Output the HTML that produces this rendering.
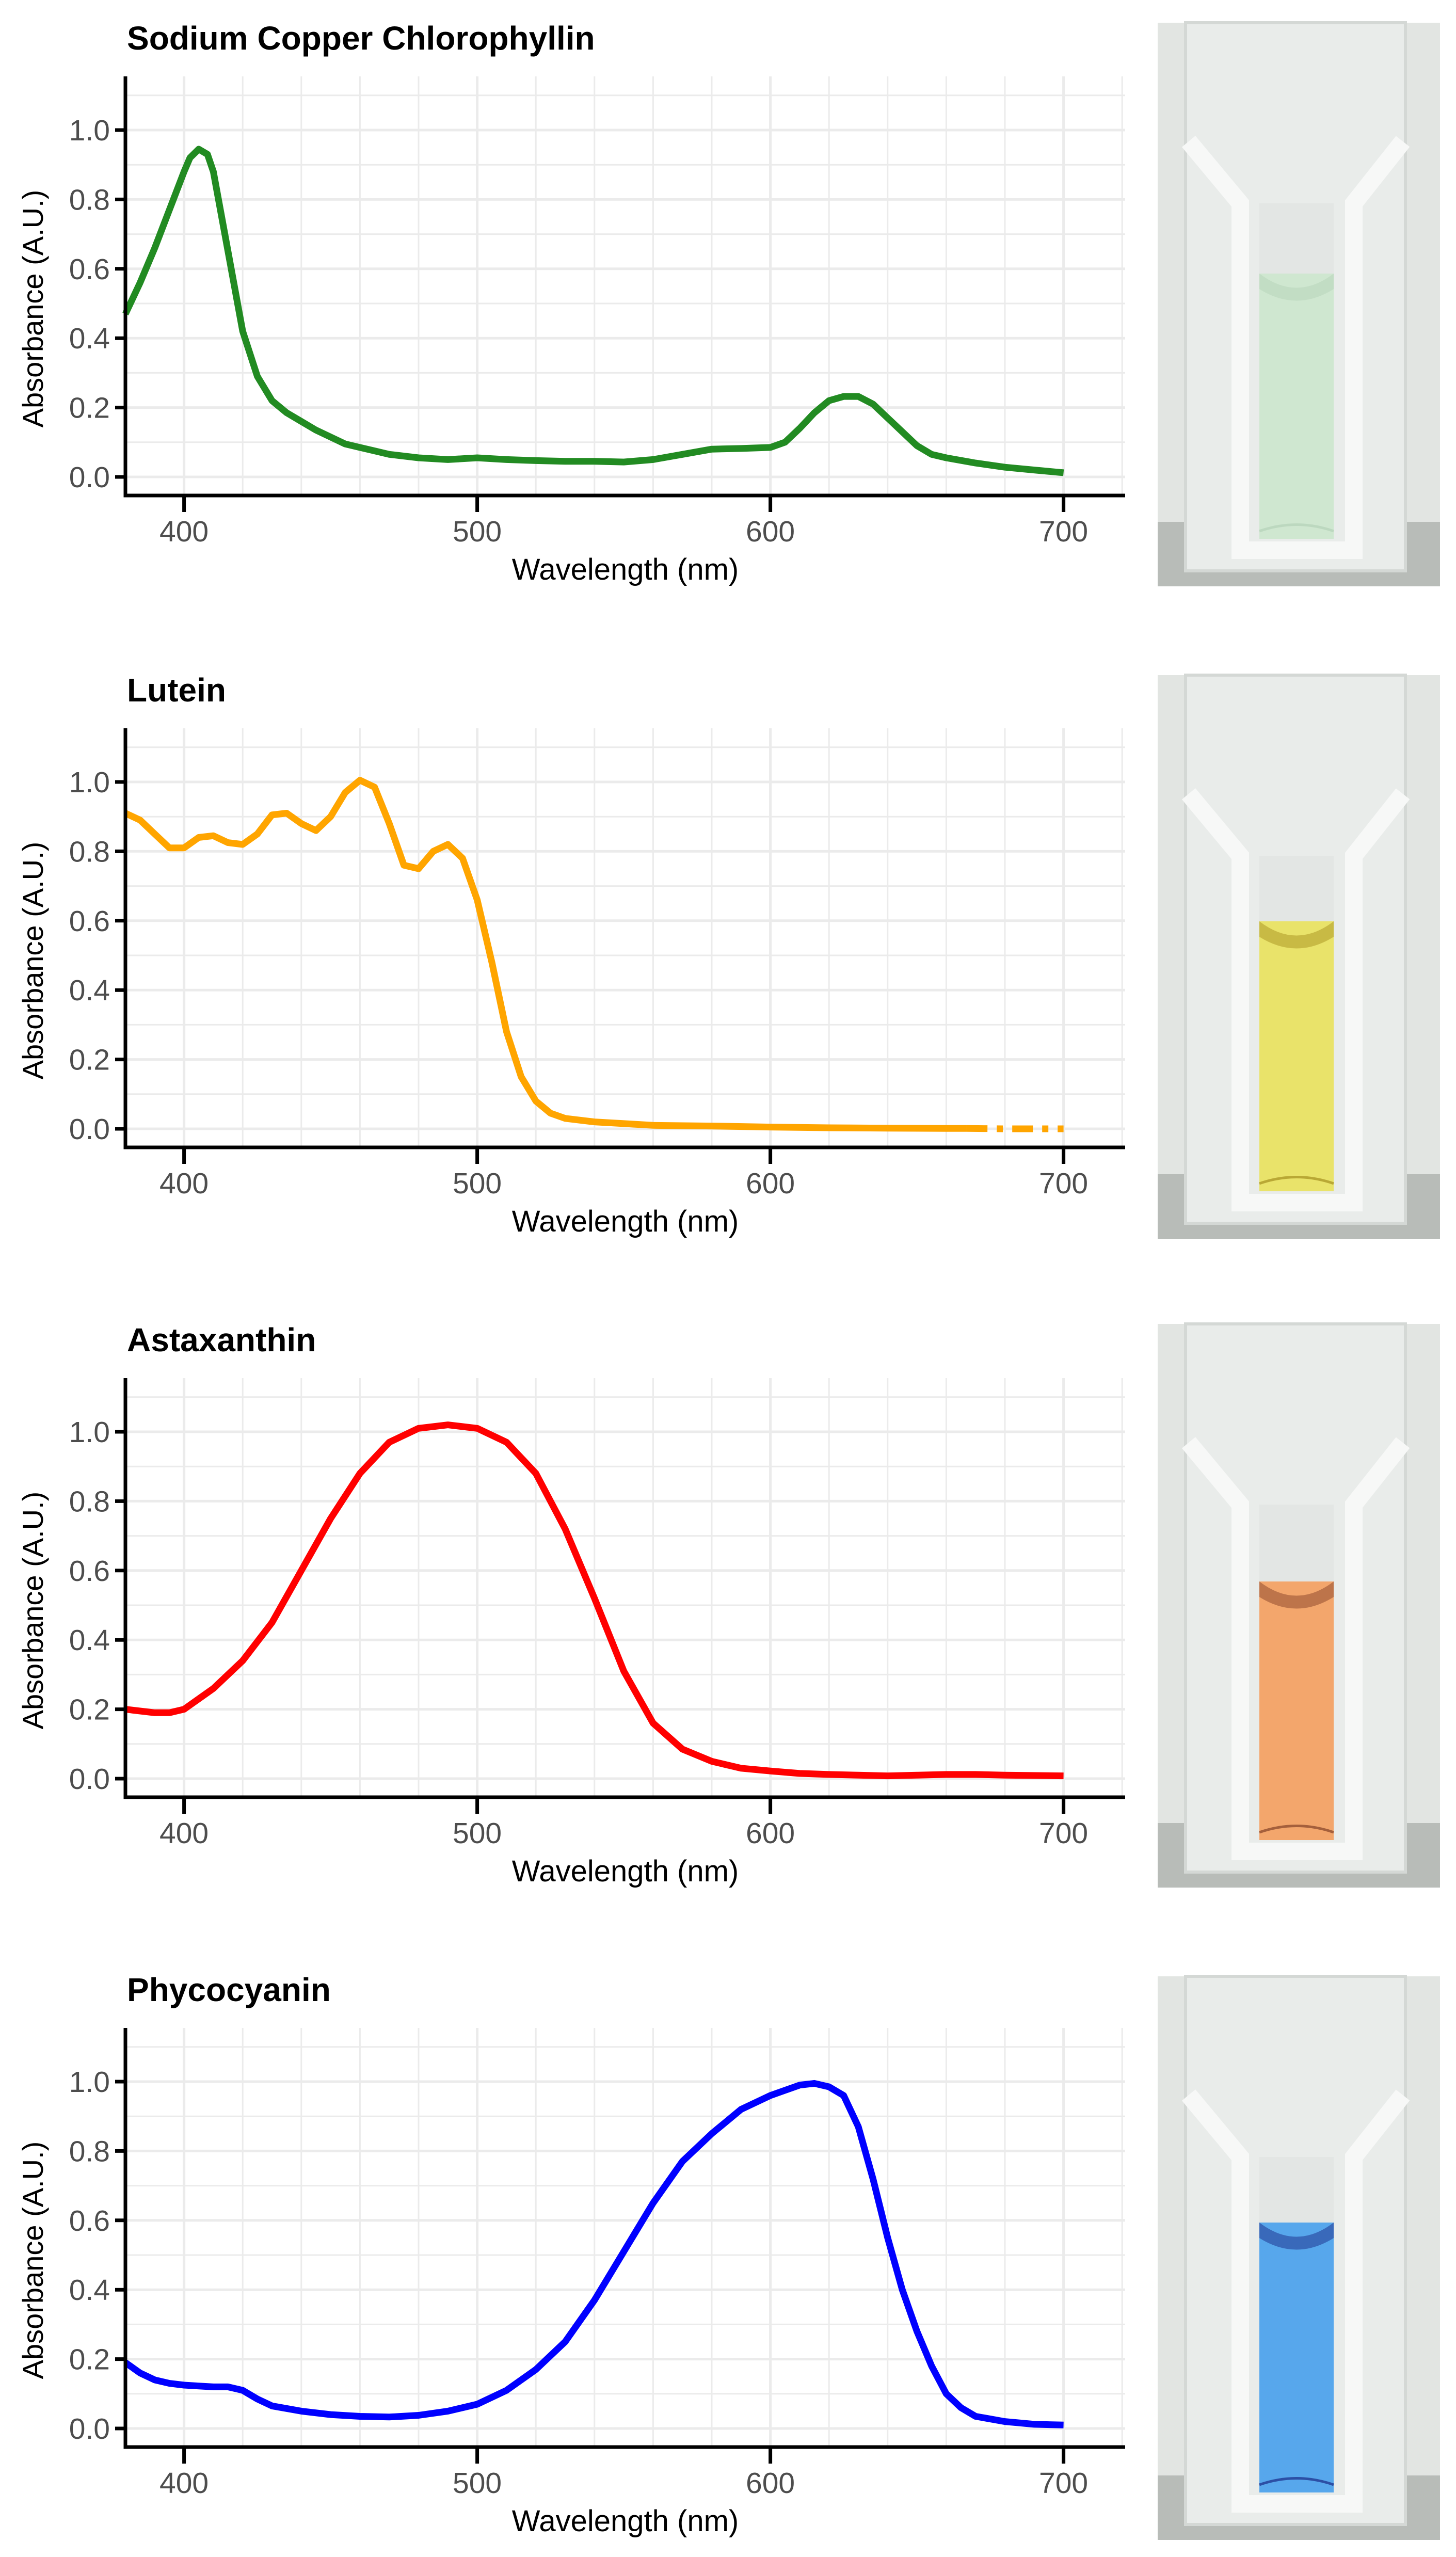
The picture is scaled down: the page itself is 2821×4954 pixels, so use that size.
<!DOCTYPE html>
<html><head><meta charset="utf-8">
<style>
html,body{margin:0;padding:0;background:#fff;}
svg{display:block;}
</style></head>
<body>
<svg id="fig" width="2821" height="4954" viewBox="0 0 2821 4954" xmlns="http://www.w3.org/2000/svg" font-family="Liberation Sans, sans-serif"></svg>
<script>
// ---- data ----
const titles = ["Sodium Copper Chlorophyllin","Lutein","Astaxanthin","Phycocyanin"];
const colors = ["#228B22","#FFA500","#FF0000","#0000FF"];
const xTicks = [400,500,600,700];
const yTicks = [0.0,0.2,0.4,0.6,0.8,1.0];
const yTickLabels = ["0.0","0.2","0.4","0.6","0.8","1.0"];

const chloroWl = [380,385,390,395,400,402,405,408,410,415,420,425,430,435,440,445,450,455,460,465,470,480,490,500,510,520,530,540,550,560,570,580,590,600,605,610,615,620,625,630,635,640,645,650,655,660,670,680,690,700];
const chloroAbs = [0.47,0.56,0.66,0.77,0.88,0.92,0.945,0.93,0.88,0.65,0.42,0.29,0.22,0.185,0.16,0.135,0.115,0.095,0.085,0.075,0.065,0.055,0.05,0.055,0.05,0.047,0.045,0.045,0.043,0.05,0.065,0.08,0.082,0.085,0.1,0.14,0.185,0.22,0.232,0.232,0.21,0.17,0.13,0.09,0.065,0.055,0.04,0.028,0.02,0.012];

const luteinWl = [380,385,390,395,400,405,410,415,420,425,430,435,440,445,450,455,460,465,470,475,480,485,490,495,500,505,510,515,520,525,530,540,550,560,580,600,620,640,660,667,680,700];
const luteinAbs = [0.91,0.89,0.85,0.81,0.81,0.84,0.845,0.825,0.82,0.85,0.905,0.91,0.88,0.86,0.9,0.97,1.005,0.985,0.88,0.76,0.75,0.8,0.82,0.78,0.66,0.48,0.28,0.15,0.08,0.045,0.03,0.02,0.015,0.01,0.008,0.005,0.003,0.002,0.001,0.001,0.0,0.0];
const luteinDashFrom = 667;

const astaWl = [380,390,395,400,405,410,415,420,430,440,450,460,470,480,490,500,510,520,530,540,550,560,570,580,590,600,610,620,630,640,650,660,670,680,700];
const astaAbs = [0.2,0.19,0.19,0.2,0.23,0.26,0.3,0.34,0.45,0.6,0.75,0.88,0.97,1.01,1.02,1.01,0.97,0.88,0.72,0.52,0.31,0.16,0.085,0.05,0.03,0.022,0.015,0.012,0.01,0.008,0.01,0.012,0.012,0.01,0.008];

const phycoWl = [380,385,390,395,400,410,415,420,425,430,440,450,460,470,480,490,500,510,520,530,540,550,560,570,580,590,600,610,615,620,625,630,635,640,645,650,655,660,665,670,680,690,700];
const phycoAbs = [0.19,0.16,0.14,0.13,0.125,0.12,0.12,0.11,0.085,0.065,0.05,0.04,0.035,0.033,0.038,0.05,0.07,0.11,0.17,0.25,0.37,0.51,0.65,0.77,0.85,0.92,0.96,0.99,0.995,0.985,0.96,0.87,0.72,0.55,0.4,0.28,0.18,0.1,0.06,0.035,0.02,0.012,0.01];

const seriesWl = [chloroWl, luteinWl, astaWl, phycoWl];
const seriesAbs = [chloroAbs, luteinAbs, astaAbs, phycoAbs];

// ---- layout ----
const NS = "http://www.w3.org/2000/svg";
const svg = document.getElementById('fig');
const offsets = [0,1263,2522,3781];
const L=243, R=2180, T=148, B=960;
const X0=380, XS=5.68, Y0=924, YS=672;
function xs(w){return L+(w-X0)*XS;}
function ys(v,o){return o+Y0-v*YS;}
function mk(tag, attrs, parent){
  const e=document.createElementNS(NS,tag);
  for(const k in attrs) e.setAttribute(k,attrs[k]);
  (parent||svg).appendChild(e); return e;
}
const photoTops=[44,1308,2565,3829];
const liqTops=[486,477,499,477];
const liqColors=["#cfe7d0","#e9e36a","#f3a66c","#57a7ec"];
const menColors=["#bcd8bf","#b9a835","#a5603c","#2c4fa5"];

for(let p=0;p<4;p++){
  const o=offsets[p];
  const g=mk('g',{});
  
  
  for(let w=380; w<=720; w+=20){
    const ln=mk('line',{x1:xs(w),x2:xs(w),y1:o+T,y2:o+B,stroke:'#ebebeb','stroke-width':(w%100===0)?5:3},g);
    
    
  }
  for(let i=0;i<=11;i++){
    const v=i/10;
    const ln=mk('line',{x1:L,x2:R,y1:ys(v,o),y2:ys(v,o),stroke:'#ebebeb','stroke-width':(i%2===0)?5:3},g);
    
    
  }
  const wl=seriesWl[p], ab=seriesAbs[p];
  let d='', d2='';
  for(let i=0;i<wl.length;i++){
    const pt=xs(wl[i]).toFixed(1)+','+ys(ab[i],o).toFixed(1);
    if(p===1 && wl[i]>luteinDashFrom){ d2+=(d2?'L':'M')+pt; }
    else { d+=(d?'L':'M')+pt; if(p===1 && wl[i]===luteinDashFrom) d2='M'+pt; }
  }
  const line=mk('path',{d:d,fill:'none',stroke:colors[p],'stroke-width':13,'stroke-linejoin':'round','stroke-linecap':'butt'},g);
  
  
  if(d2){
    const dl=mk('path',{d:d2,fill:'none',stroke:colors[p],'stroke-width':13,'stroke-dasharray':'40 18 12 18'},g);
    
    
  }
  const ax=mk('path',{d:`M${L},${o+T}V${o+B}H${R}`,fill:'none',stroke:'#000','stroke-width':7},g);
  
  
  yTicks.forEach((v,i)=>{
    mk('line',{x1:L-20,x2:L,y1:ys(v,o),y2:ys(v,o),stroke:'#000','stroke-width':7},g);
    const t=mk('text',{x:L-30,y:ys(v,o)+20,'text-anchor':'end','font-size':57,fill:'#4d4d4d'},g);
    
    
    t.textContent=yTickLabels[i];
  });
  xTicks.forEach(w=>{
    mk('line',{x1:xs(w),x2:xs(w),y1:o+B,y2:o+B+32,stroke:'#000','stroke-width':7},g);
    const t=mk('text',{x:xs(w),y:o+1049,'text-anchor':'middle','font-size':57,fill:'#4d4d4d'},g);
    
    
    t.textContent=String(w);
  });
  const xt=mk('text',{x:(L+R)/2,y:o+1123,'text-anchor':'middle','font-size':58,fill:'#000'},g);
  
  
  xt.textContent='Wavelength (nm)';
  const cy=ys(0.5,o)+10;
  const yt=mk('text',{x:0,y:0,transform:`translate(83,${cy}) rotate(-90)`,'text-anchor':'middle','font-size':56,fill:'#000'},g);
  
  
  yt.textContent='Absorbance (A.U.)';
  const tt=mk('text',{x:246,y:o+96,'font-size':64,'font-weight':'bold',fill:'#000'},g);
  
  
  tt.textContent=titles[p];

  const py=photoTops[p], px=2243, pw=547, ph=1092;
  const pg=mk('g',{transform:`translate(${px},${py})`});
  
  
  mk('rect',{x:0,y:0,width:pw,height:ph,fill:'#e2e5e2'},pg);
  mk('rect',{x:0,y:ph-125,width:pw,height:125,fill:'#b8bcb8'},pg);
  mk('rect',{x:54,y:0,width:426,height:ph-30,fill:'#e9ecea',stroke:'#d4d8d5','stroke-width':6},pg);
  mk('path',{d:`M60,230 L160,350 V${ph-70} H380 V350 L475,230`,fill:'none',stroke:'#f7f8f7','stroke-width':34,'stroke-linejoin':'miter'},pg);
  mk('rect',{x:197,y:350,width:144,height:liqTops[p]-350,fill:'#e3e6e4'},pg);
  const liq=mk('rect',{x:197,y:liqTops[p],width:144,height:1000-liqTops[p],fill:liqColors[p]},pg);
  
  
  mk('path',{d:`M197,${liqTops[p]} Q269,${liqTops[p]+55} 341,${liqTops[p]} V${liqTops[p]+30} Q269,${liqTops[p]+75} 197,${liqTops[p]+30}Z`,fill:menColors[p],opacity:0.7},pg);
  mk('path',{d:`M197,985 Q269,960 341,985`,fill:'none',stroke:menColors[p],'stroke-width':5},pg);
}
</script>
</body></html>
